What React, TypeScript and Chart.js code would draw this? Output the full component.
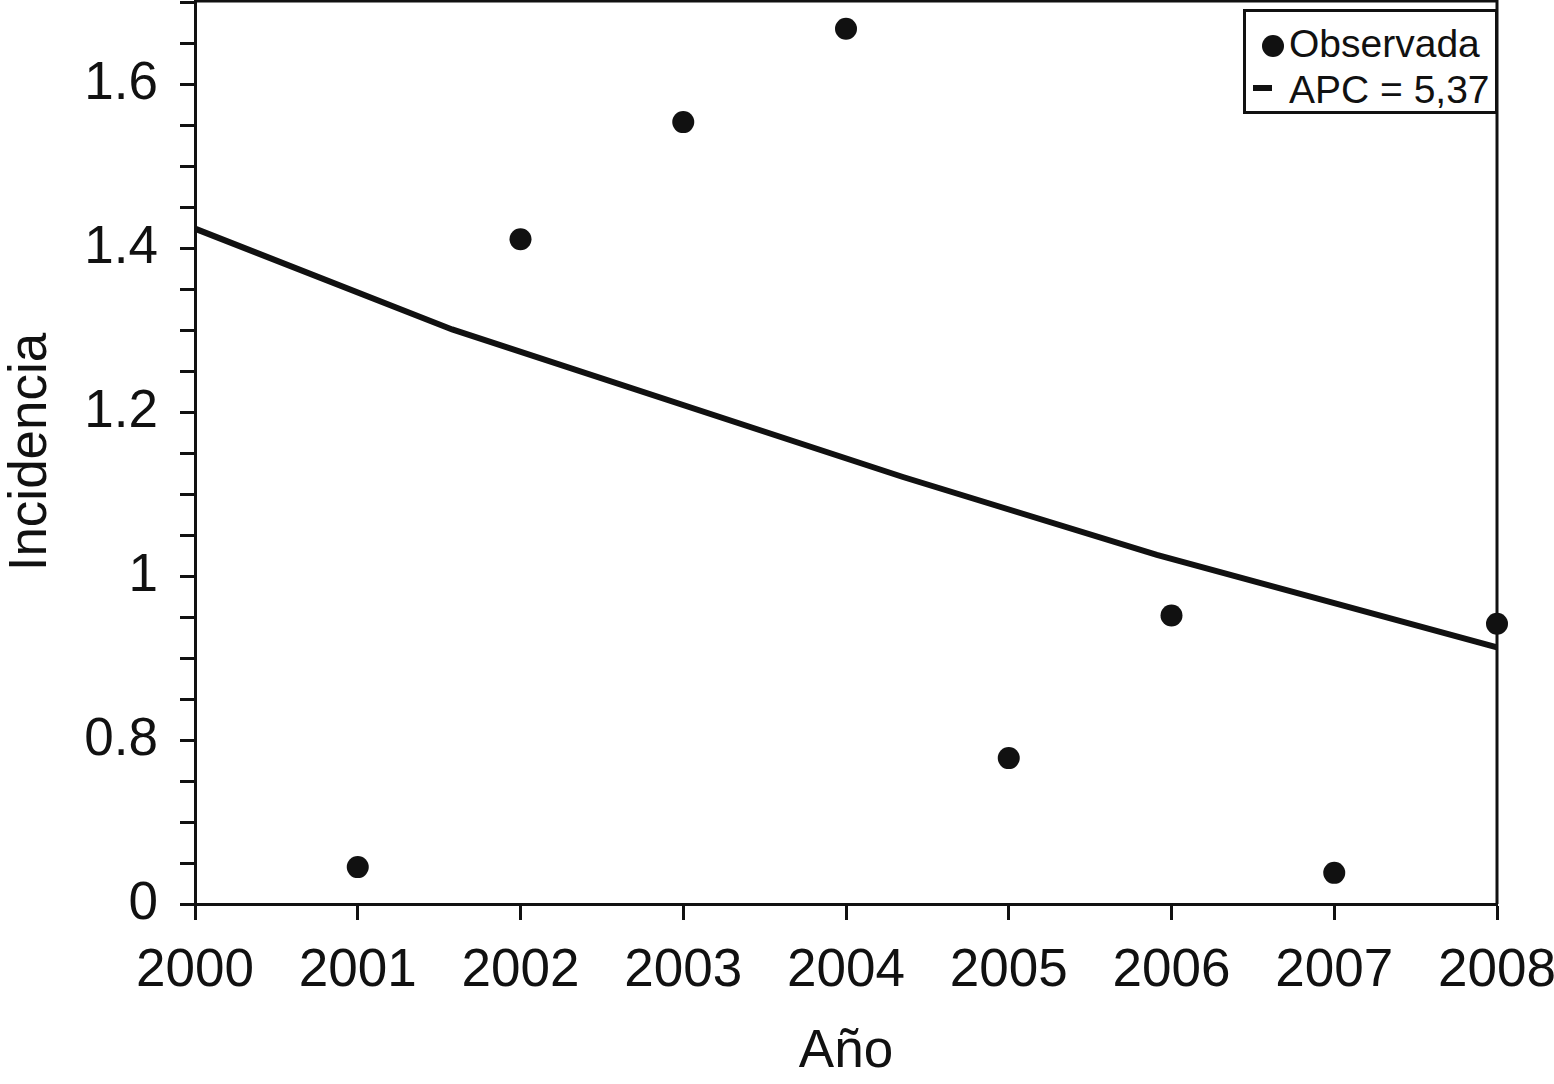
import React, { useEffect, useRef } from "react";
import { Chart, registerables } from "chart.js";

Chart.register(...registerables);

// Observed incidence by year
const observedYears = [2001, 2002, 2003, 2004, 2005, 2006, 2007, 2008];
const observedValues = [0.645, 1.411, 1.554, 1.668, 0.778, 0.952, 0.638, 0.942];

// Fitted APC trend (as drawn)
const fitYears = [2000, 2001.58, 2004.35, 2005.91, 2008];
const fitValues = [1.424, 1.301, 1.121, 1.026, 0.913];

const observedLabel = "Observada";
const fitLabel = "APC = 5,37";
const xTitle = "Año";
const yTitle = "Incidencia";

// Axis ticks (bottom of axis is labelled "0" in the original)
const yTickValues = [0.6, 0.65, 0.7, 0.75, 0.8, 0.85, 0.9, 0.95, 1.0, 1.05, 1.1, 1.15, 1.2, 1.25, 1.3, 1.35, 1.4, 1.45, 1.5, 1.55, 1.6, 1.65, 1.7];
const yLabelValues = [0.6, 0.8, 1.0, 1.2, 1.4, 1.6];
const yLabelTexts = ["0", "0.8", "1", "1.2", "1.4", "1.6"];
const xMin = 2000;
const xMax = 2008;
const yMin = 0.6;
const yMax = 1.703;

const INK = "#111";
const FONT = "'Liberation Sans', Arial, sans-serif";

const framePlugin = {
  id: "frame",
  beforeDatasetsDraw(chart: any) {
    const { ctx, chartArea } = chart;
    ctx.save();
    ctx.strokeStyle = INK;
    ctx.lineWidth = 3;
    ctx.beginPath();
    ctx.moveTo(chartArea.left, chartArea.top + 1);
    ctx.lineTo(chartArea.right, chartArea.top + 1);
    ctx.lineTo(chartArea.right, chartArea.bottom);
    ctx.stroke();
    ctx.restore();
  },
};

export default function App() {
  const canvasRef = useRef<HTMLCanvasElement | null>(null);

  useEffect(() => {
    if (!canvasRef.current) return;
    const chart = new Chart(canvasRef.current, {
      type: "scatter",
      data: {
        datasets: [
          {
            type: "scatter",
            label: observedLabel,
            data: observedYears.map((x, i) => ({ x, y: observedValues[i] })),
            pointRadius: 11,
            pointHoverRadius: 11,
            pointBackgroundColor: INK,
            pointBorderColor: INK,
            pointBorderWidth: 0,
            clip: false,
            order: 1,
          } as any,
          {
            type: "line",
            label: fitLabel,
            data: fitYears.map((x, i) => ({ x, y: fitValues[i] })),
            borderColor: INK,
            borderWidth: 6,
            pointRadius: 0,
            tension: 0,
            fill: false,
            order: 2,
          } as any,
        ],
      },
      options: {
        animation: false,
        responsive: false,
        layout: { autoPadding: false, padding: { top: 0, right: 57, bottom: 0, left: 0 } },
        plugins: {
          legend: { display: false },
          tooltip: { enabled: false },
        },
        scales: {
          x: {
            type: "linear",
            min: xMin,
            max: xMax,
            afterFit(scale: any) {
              scale.height = 180;
              scale.paddingLeft = 0;
              scale.paddingRight = 0;
            },
            ticks: {
              stepSize: 1,
              autoSkip: false,
              maxRotation: 0,
              color: INK,
              padding: 20,
              font: { family: FONT, size: 53 },
              callback: (v: any) => String(v),
            },
            grid: {
              drawOnChartArea: false,
              drawTicks: true,
              tickLength: 16,
              tickWidth: 3,
              color: INK,
            },
            border: { display: true, color: INK, width: 3 },
            title: {
              display: true,
              text: xTitle,
              color: INK,
              font: { family: FONT, size: 53 },
              padding: { top: 0, bottom: 0 },
            },
          },
          y: {
            type: "linear",
            min: yMin,
            max: yMax,
            afterFit(scale: any) {
              scale.width = 195;
              scale.paddingTop = 0;
              scale.paddingBottom = 0;
            },
            afterBuildTicks(scale: any) {
              scale.ticks = yTickValues.map((v) => ({ value: v }));
            },
            ticks: {
              autoSkip: false,
              color: INK,
              padding: 22,
              font: { family: FONT, size: 53 },
              callback: (value: any) => {
                const i = yLabelValues.findIndex((v) => Math.abs(v - Number(value)) < 1e-6);
                return i >= 0 ? yLabelTexts[i] : "";
              },
            },
            grid: {
              drawOnChartArea: false,
              drawTicks: true,
              tickLength: 15,
              tickWidth: 3,
              color: INK,
            },
            border: { display: true, color: INK, width: 3 },
            title: {
              display: true,
              text: yTitle,
              color: INK,
              font: { family: FONT, size: 53 },
              padding: { top: 0, bottom: 0 },
            },
          },
        },
      },
      plugins: [framePlugin],
    } as any);
    return () => chart.destroy();
  }, []);

  const text: React.CSSProperties = {
    position: "absolute",
    fontFamily: FONT,
    fontSize: 39,
    lineHeight: "39px",
    color: INK,
    whiteSpace: "nowrap",
  };

  return (
    <div style={{ position: "absolute", left: 0, top: 0, width: 1554, height: 1084, background: "#fff" }}>
      <canvas ref={canvasRef} width={1554} height={1084} style={{ width: 1554, height: 1084, display: "block" }} />
      <div
        style={{
          position: "absolute",
          left: 1243,
          top: 9,
          width: 255,
          height: 105,
          border: `3px solid ${INK}`,
          boxSizing: "border-box",
          background: "#fff",
        }}
      >
        <div style={{ position: "absolute", left: 16, top: 23, width: 22, height: 22, borderRadius: "50%", background: INK }} />
        <div style={{ ...text, left: 43, top: 12 }}>{observedLabel}</div>
        <div style={{ position: "absolute", left: 7, top: 73, width: 19, height: 6, background: INK }} />
        <div style={{ ...text, left: 43, top: 58 }}>{fitLabel}</div>
      </div>
    </div>
  );
}
